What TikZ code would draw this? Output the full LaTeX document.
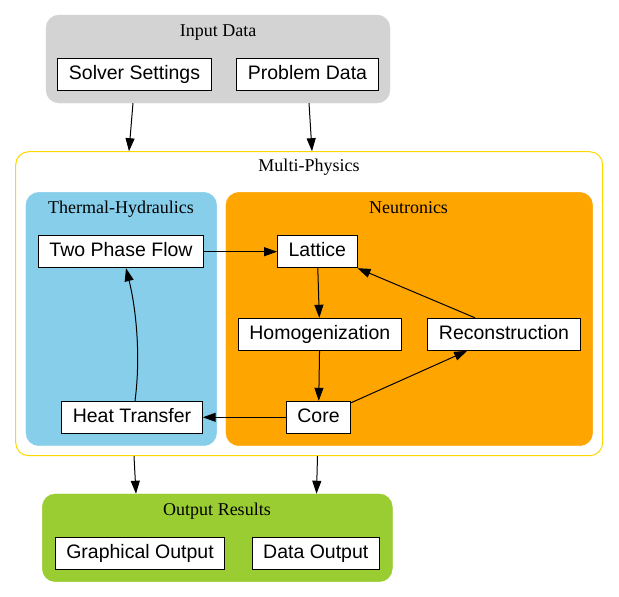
\documentclass[tikz,border=0pt]{standalone}
\usepackage{fontspec}
\setmainfont{Liberation Serif}
\setsansfont{Liberation Sans}
\usetikzlibrary{arrows.meta}
\definecolor{lgray}{HTML}{D3D3D3}
\definecolor{skyb}{HTML}{87CEEB}
\definecolor{orng}{HTML}{FFA500}
\definecolor{ygreen}{HTML}{9ACD32}
\definecolor{gold}{HTML}{FFD700}
\begin{document}
\begin{tikzpicture}
[x=1pt, y=-1pt,
box/.style={draw=black, fill=white, line width=1pt, inner xsep=11pt, inner ysep=7pt, text height=14pt, text depth=4pt, font=\sffamily\fontsize{19.5}{22}\selectfont},
clust/.style={rounded corners=13pt, inner sep=0pt},
lbl/.style={anchor=base, inner sep=0pt, font=\fontsize{18}{20}\selectfont},
arr/.style={-{Triangle[length=13pt,width=9pt]}, line width=1pt}]
\useasboundingbox (0,0) rectangle (619,597);

\draw (218,59)      node[clust, fill=lgray, draw=lgray, minimum width=344pt, minimum height=88pt] (in) {};
\draw (309.2,303.7) node[clust, fill=white, draw=gold, line width=1pt, minimum width=587pt, minimum height=304pt] (mp) {};
\draw (121.3,319)   node[clust, fill=skyb, draw=skyb, minimum width=190.7pt, minimum height=253.4pt] (th) {};
\draw (409.3,319)   node[clust, fill=orng, draw=orng, minimum width=366.7pt, minimum height=253.4pt] (ne) {};
\draw (217.3,537.8) node[clust, fill=ygreen, draw=ygreen, minimum width=350pt, minimum height=87.7pt] (out) {};

\draw (218,36.5)    node[lbl] {Input Data};
\draw (309,171.7)   node[lbl] {Multi-Physics};
\draw (121,213.3)   node[lbl] {Thermal-Hydraulics};
\draw (408.5,213.3) node[lbl] {Neutronics};
\draw (217,515.7)   node[lbl] {Output Results};

\draw (134.5,74.5)  node[box] (ss) {Solver Settings};
\draw (307.5,74.5)  node[box] (pd) {Problem Data};

\draw (121,251.7)   node[box] (tpf) {Two Phase Flow};
\draw (132,417.3)   node[box] (ht) {Heat Transfer};
\draw (317.3,251.7) node[box] (lat) {Lattice};
\draw (319.8,334.3) node[box] (hom) {Homogenization};
\draw (504,334.3)   node[box] (rec) {Reconstruction};
\draw (318.5,417.3) node[box] (core) {Core};

\draw (140,553.3)   node[box] (go) {Graphical Output};
\draw (315.8,553.3) node[box] (do) {Data Output};

\draw [arr] ([xshift=-1.5pt]ss.south |- in.south) -- ([xshift=-5.5pt]ss.south |- mp.north);
\draw [arr] ([xshift=1.5pt]pd.south |- in.south) -- ([xshift=4.5pt]pd.south |- mp.north);

\draw [arr] (tpf.east) -- (lat.west);
\draw [arr] (lat) -- (hom);
\draw [arr] (hom) -- (core);
\draw [arr] (core) -- (rec);
\draw [arr] ([xshift=-29pt]rec.north) -- (lat.south east);
\draw [arr] (core.west) -- (ht.east);
\draw [arr] ([xshift=3pt]ht.north) .. controls +(6,-45) and +(10,40) .. ([xshift=5pt]tpf.south);

\draw [arr] ([xshift=2pt]ht.south |- mp.south) -- ([xshift=4pt]ht.south |- out.north);
\draw [arr] ([xshift=-1pt]core.south |- mp.south) -- ([xshift=-2pt]core.south |- out.north);
\end{tikzpicture}
\end{document}
